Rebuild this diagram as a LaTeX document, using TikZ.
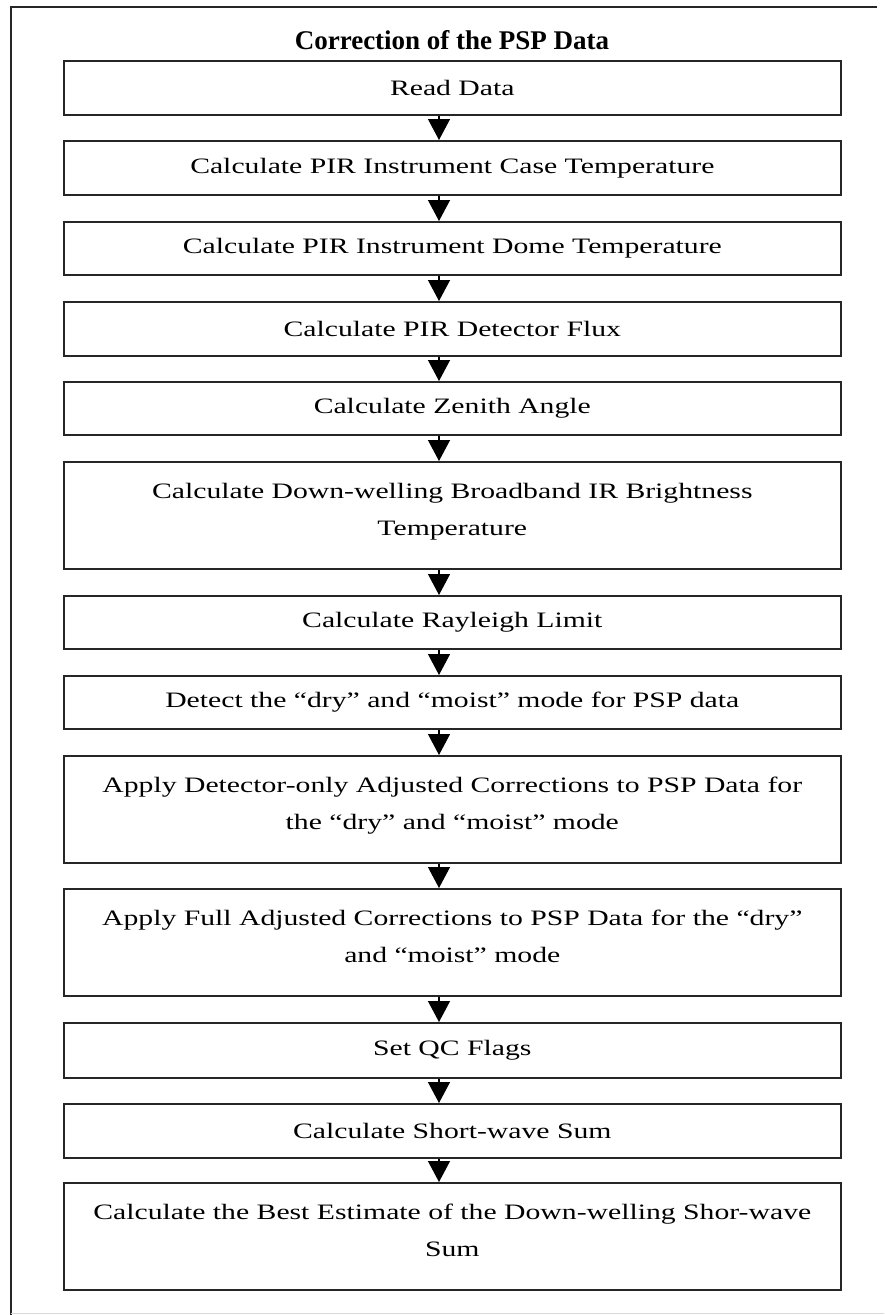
\documentclass[tikz,border=0pt]{standalone}
\usepackage{fontspec}
\setmainfont{Liberation Serif}[FakeStretch=1.35]
\newfontfamily\titlefont{Liberation Serif}
\usetikzlibrary{arrows.meta}
\begin{document}
\begin{tikzpicture}[x=1pt,y=-1pt,
  box/.style={draw=black!85, line width=1.6pt, minimum width=777pt, inner sep=0pt, anchor=north west},
  lbl/.style={font=\fontsize{22}{37}\selectfont, align=center, inner sep=0pt},
  flow/.style={draw=black, line width=1.3pt, -{Triangle[width=22pt,length=21pt]}},
  frame/.style={draw=black!85, line width=2pt}]
\useasboundingbox (0,0) rectangle (884,1315);
% frame
\coordinate (f0) at (877,7);
\coordinate (f1) at (10.5,7);
\coordinate (f2) at (10.5,1315);
\coordinate (g1) at (10.5,1313.5);
\coordinate (g2) at (884,1313.5);
\draw[frame] (f0) -- (f1) -- (f2);
\draw[black!15, line width=1.5pt] (g1) -- (g2);
% title
\node[font=\titlefont\bfseries\fontsize{27}{31}\selectfont, inner sep=0pt] (title) at (452,40) {Correction of the PSP Data};
% boxes
\node[box, minimum height=54pt] (b1) at (63,60) {};
\node[box, minimum height=54pt] (b2) at (63,140) {};
\node[box, minimum height=53pt] (b3) at (63,221) {};
\node[box, minimum height=54pt] (b4) at (63,301) {};
\node[box, minimum height=53pt] (b5) at (63,381) {};
\node[box, minimum height=107pt] (b6) at (63,461) {};
\node[box, minimum height=53pt] (b7) at (63,595) {};
\node[box, minimum height=53pt] (b8) at (63,675) {};
\node[box, minimum height=107pt] (b9) at (63,755) {};
\node[box, minimum height=107pt] (b10) at (63,888) {};
\node[box, minimum height=55pt] (b11) at (63,1022) {};
\node[box, minimum height=54pt] (b12) at (63,1103) {};
\node[box, minimum height=107pt] (b13) at (63,1182) {};
% labels
\node[lbl] (t1) at (b1.center) {Read Data};
\node[lbl] (t2) at (b2.center) {Calculate PIR Instrument Case Temperature};
\node[lbl] (t3) at (b3.center) {Calculate PIR Instrument Dome Temperature};
\node[lbl] (t4) at (b4.center) {Calculate PIR Detector Flux};
\node[lbl] (t5) at (b5.center) {Calculate Zenith Angle};
\node[lbl, anchor=north] (t6) at ([yshift=-22pt]b6.north) {Calculate Down-welling Broadband IR Brightness\\Temperature};
\node[lbl] (t7) at (b7.center) {Calculate Rayleigh Limit};
\node[lbl] (t8) at (b8.center) {Detect the “dry” and “moist” mode for PSP data};
\node[lbl, anchor=north] (t9) at ([yshift=-22pt]b9.north) {Apply Detector-only Adjusted Corrections to PSP Data for\\the “dry” and “moist” mode};
\node[lbl, anchor=north] (t10) at ([yshift=-22pt]b10.north) {Apply Full Adjusted Corrections to PSP Data for the “dry”\\and “moist” mode};
\node[lbl] (t11) at (b11.center) {Set QC Flags};
\node[lbl] (t12) at (b12.center) {Calculate Short-wave Sum};
\node[lbl, anchor=north] (t13) at ([yshift=-22pt]b13.north) {Calculate the Best Estimate of the Down-welling Shor-wave\\Sum};
% arrows
\coordinate (ax) at (439,0);
\foreach \a/\b in {b1/b2,b2/b3,b3/b4,b4/b5,b5/b6,b6/b7,b7/b8,b8/b9,b9/b10,b10/b11,b11/b12,b12/b13}
  \draw[flow] (\a.south -| ax) -- (\b.north -| ax);
\end{tikzpicture}
\end{document}
